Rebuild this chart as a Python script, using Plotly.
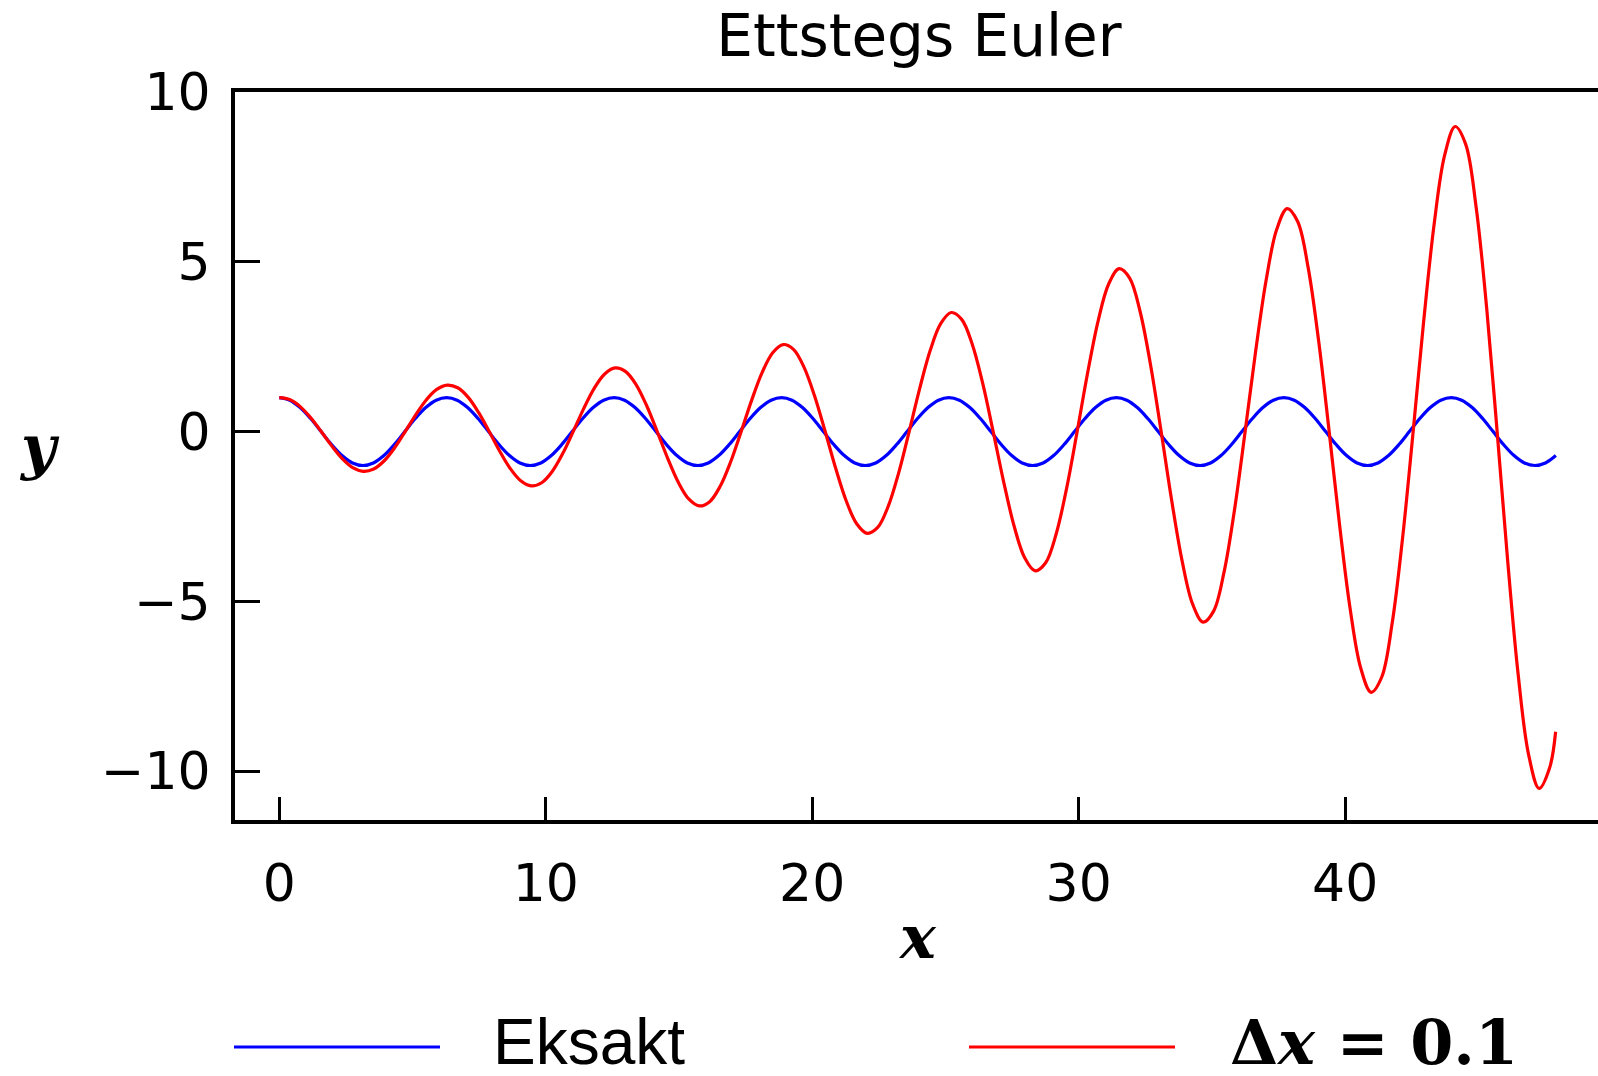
import plotly.graph_objects as go

# ---- data ----
title_text = "Ettstegs Euler"
series_names = ["Eksakt", "Δx = 0.1"]
x_ticks = [0, 10, 20, 30, 40]
y_ticks = [-10, -5, 0, 5, 10]

exact_x = [0.000, 0.393, 0.785, 1.178, 1.571, 1.963, 2.356, 2.749, 3.142, 3.534,
           3.927, 4.320, 4.712, 5.105, 5.498, 5.890, 6.283, 6.676, 7.069, 7.461,
           7.854, 8.247, 8.639, 9.032, 9.425, 9.817, 10.210, 10.603, 10.996, 11.388,
           11.781, 12.174, 12.566, 12.959, 13.352, 13.744, 14.137, 14.530, 14.923, 15.315,
           15.708, 16.101, 16.493, 16.886, 17.279, 17.671, 18.064, 18.457, 18.850, 19.242,
           19.635, 20.028, 20.420, 20.813, 21.206, 21.598, 21.991, 22.384, 22.777, 23.169,
           23.562, 23.955, 24.347, 24.740, 25.133, 25.525, 25.918, 26.311, 26.704, 27.096,
           27.489, 27.882, 28.274, 28.667, 29.060, 29.452, 29.845, 30.238, 30.631, 31.023,
           31.416, 31.809, 32.201, 32.594, 32.987, 33.379, 33.772, 34.165, 34.558, 34.950,
           35.343, 35.736, 36.128, 36.521, 36.914, 37.306, 37.699, 38.092, 38.485, 38.877,
           39.270, 39.663, 40.055, 40.448, 40.841, 41.233, 41.626, 42.019, 42.412, 42.804,
           43.197, 43.590, 43.982, 44.375, 44.768, 45.160, 45.553, 45.946, 46.338, 46.731,
           47.124, 47.517, 47.909]
exact_y = [1.0, 0.924, 0.707, 0.383, 0.0, -0.383, -0.707, -0.924, -1.0, -0.924, -0.707, -0.383, 0.0, 0.383, 0.707, 0.924,
           1.0, 0.924, 0.707, 0.383, 0.0, -0.383, -0.707, -0.924, -1.0, -0.924, -0.707, -0.383, 0.0, 0.383, 0.707, 0.924,
           1.0, 0.924, 0.707, 0.383, 0.0, -0.383, -0.707, -0.924, -1.0, -0.924, -0.707, -0.383, 0.0, 0.383, 0.707, 0.924,
           1.0, 0.924, 0.707, 0.383, 0.0, -0.383, -0.707, -0.924, -1.0, -0.924, -0.707, -0.383, 0.0, 0.383, 0.707, 0.924,
           1.0, 0.924, 0.707, 0.383, 0.0, -0.383, -0.707, -0.924, -1.0, -0.924, -0.707, -0.383, 0.0, 0.383, 0.707, 0.924,
           1.0, 0.924, 0.707, 0.383, 0.0, -0.383, -0.707, -0.924, -1.0, -0.924, -0.707, -0.383, 0.0, 0.383, 0.707, 0.924,
           1.0, 0.924, 0.707, 0.383, 0.0, -0.383, -0.707, -0.924, -1.0, -0.924, -0.707, -0.383, 0.0, 0.383, 0.707, 0.924,
           1.0, 0.924, 0.707, 0.383, 0.0, -0.383, -0.707, -0.924, -1.0, -0.924, -0.707]

euler_x = [0.000, 0.394, 0.788, 1.182, 1.576, 1.970, 2.364, 2.758, 3.152, 3.546,
           3.940, 4.334, 4.728, 5.122, 5.516, 5.910, 6.304, 6.698, 7.092, 7.486,
           7.880, 8.274, 8.668, 9.062, 9.456, 9.850, 10.244, 10.638, 11.032, 11.426,
           11.820, 12.214, 12.608, 13.002, 13.396, 13.790, 14.184, 14.578, 14.972, 15.366,
           15.760, 16.154, 16.548, 16.942, 17.336, 17.730, 18.124, 18.518, 18.912, 19.306,
           19.700, 20.094, 20.488, 20.882, 21.276, 21.670, 22.064, 22.458, 22.852, 23.246,
           23.640, 24.034, 24.428, 24.822, 25.216, 25.610, 26.004, 26.398, 26.792, 27.186,
           27.580, 27.974, 28.368, 28.762, 29.156, 29.550, 29.944, 30.338, 30.732, 31.126,
           31.520, 31.914, 32.308, 32.702, 33.096, 33.490, 33.884, 34.278, 34.672, 35.066,
           35.460, 35.854, 36.248, 36.643, 37.037, 37.431, 37.825, 38.219, 38.613, 39.007,
           39.401, 39.795, 40.189, 40.583, 40.977, 41.371, 41.765, 42.159, 42.553, 42.947,
           43.341, 43.735, 44.129, 44.523, 44.917, 45.311, 45.705, 46.099, 46.493, 46.887,
           47.281, 47.675, 47.900]
euler_y = [1.000, 0.942, 0.735, 0.406, 0.000, -0.422, -0.795, -1.060,
           -1.170, -1.102, -0.860, -0.475, 0.000, 0.494, 0.930, 1.240,
           1.368, 1.289, 1.006, 0.555, 0.000, -0.578, -1.088, -1.450,
           -1.601, -1.508, -1.177, -0.650, 0.000, 0.676, 1.273, 1.696,
           1.873, 1.764, 1.377, 0.760, 0.000, -0.790, -1.489, -1.984,
           -2.190, -2.064, -1.611, -0.889, 0.000, 0.925, 1.742, 2.321,
           2.562, 2.414, 1.884, 1.040, 0.000, -1.082, -2.038, -2.715,
           -2.997, -2.824, -2.204, -1.217, 0.000, 1.265, 2.384, 3.177,
           3.506, 3.304, 2.578, 1.423, 0.000, -1.480, -2.789, -3.716,
           -4.102, -3.864, -3.016, -1.665, 0.000, 1.731, 3.262, 4.347,
           4.798, 4.521, 3.528, 1.947, 0.000, -2.025, -3.816, -5.085,
           -5.613, -5.288, -4.127, -2.278, 0.000, 2.369, 4.464, 5.948,
           6.566, 6.186, 4.828, 2.665, 0.000, -2.771, -5.222, -6.958,
           -7.680, -7.236, -5.648, -3.117, 0.000, 3.242, 6.109, 8.139,
           8.984, 8.465, 6.607, 3.647, 0.000, -3.792, -7.146, -9.521,
           -10.510, -9.902, -8.840]

# ---- layout geometry (pixels) ----
W, H = 1598, 1076
L, R, T, B = 235, 0, 92, 256
pw, ph = W - L - R, H - T - B


def px_x(p):
    return (p - L) / pw


def px_y(p):
    return (H - B - p) / ph


fig = go.Figure()
fig.add_trace(go.Scatter(x=exact_x, y=exact_y, mode="lines", name=series_names[0],
                         line=dict(color="#0000ff", width=3.2, shape="spline")))
fig.add_trace(go.Scatter(x=euler_x, y=euler_y, mode="lines", name=series_names[1],
                         line=dict(color="#ff0000", width=3.2, shape="spline")))

tick_font = dict(family="DejaVu Sans", size=52, color="black")

fig.update_layout(
    width=W, height=H,
    margin=dict(l=L, r=R, t=T, b=B, pad=0),
    paper_bgcolor="white", plot_bgcolor="white",
    showlegend=False,
    title=dict(text=title_text, x=919 / W, xref="container", xanchor="center",
               y=1 - 36 / H, yref="container", yanchor="middle",
               font=dict(family="DejaVu Sans", size=58, color="black")),
    xaxis=dict(range=[-1.66, 49.49], tickvals=x_ticks, ticks="inside", ticklen=23,
               tickwidth=2.5, tickcolor="black", showline=True, linewidth=4,
               linecolor="black", mirror=True, showgrid=False, zeroline=False,
               tickfont=tick_font, ticklabelstandoff=15),
    yaxis=dict(range=[-11.44, 10.0], tickvals=y_ticks, ticks="inside", ticklen=25,
               tickwidth=2.5, tickcolor="black", showline=True, linewidth=4,
               linecolor="black", mirror=False, showgrid=False, zeroline=False,
               tickfont=tick_font, ticklabelstandoff=10),
)

# axis labels
fig.add_annotation(text="<b><i>y</i></b>", x=px_x(39), y=px_y(447), xref="paper", yref="paper",
                   showarrow=False, xanchor="center", yanchor="middle",
                   font=dict(family="DejaVu Serif", size=60, color="black"))
fig.add_annotation(text="<b><i>x</i></b>", x=px_x(917), y=px_y(937), xref="paper", yref="paper",
                   showarrow=False, xanchor="center", yanchor="middle",
                   font=dict(family="DejaVu Serif", size=60, color="black"))

# legend drawn below the plot
fig.add_shape(type="line", xref="paper", yref="paper", x0=px_x(234), x1=px_x(440),
              y0=px_y(1047), y1=px_y(1047), line=dict(color="#0000ff", width=3))
fig.add_shape(type="line", xref="paper", yref="paper", x0=px_x(969), x1=px_x(1175),
              y0=px_y(1047), y1=px_y(1047), line=dict(color="#ff0000", width=3))
fig.add_annotation(text=series_names[0], x=px_x(491), y=px_y(1042), xref="paper", yref="paper",
                   showarrow=False, xanchor="left", yanchor="middle",
                   font=dict(family="Liberation Sans", size=64, color="black"))
fig.add_annotation(text="<b>Δ<i>x</i> = 0.1</b>", x=px_x(1228), y=px_y(1042),
                   xref="paper", yref="paper",
                   showarrow=False, xanchor="left", yanchor="middle",
                   font=dict(family="DejaVu Serif", size=62, color="black"))

fig.write_html("out.html")
